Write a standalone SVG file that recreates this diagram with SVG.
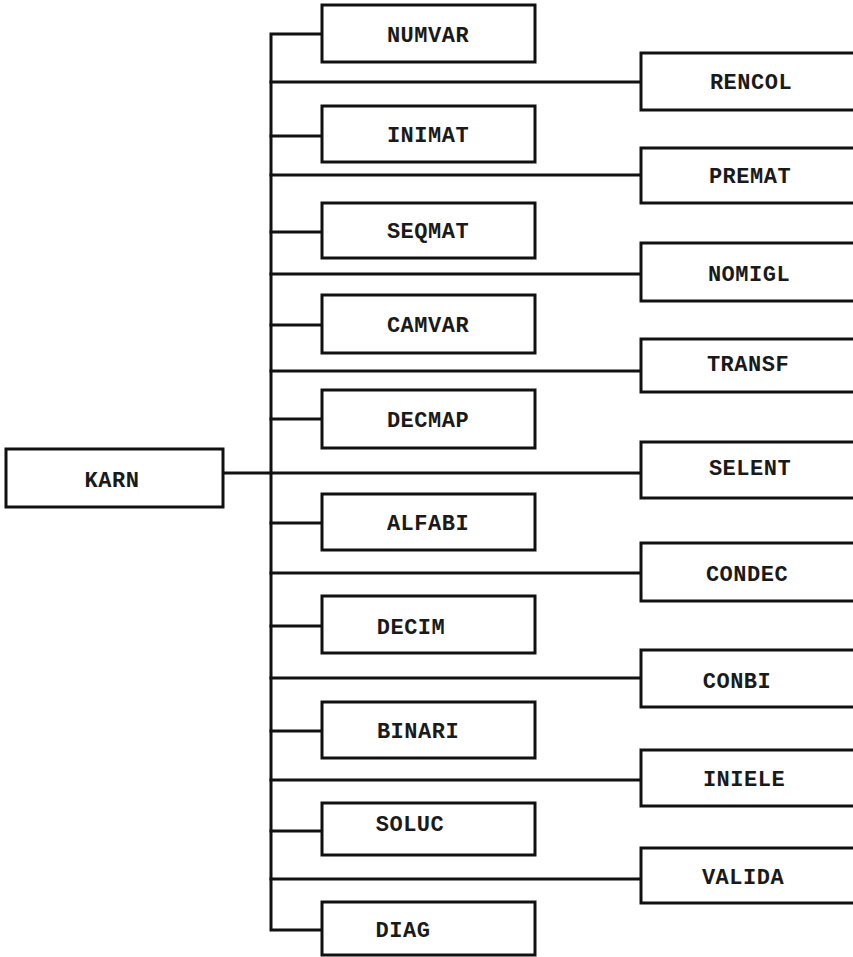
<svg xmlns="http://www.w3.org/2000/svg" width="853" height="957" viewBox="0 0 853 957">
<style>
.box{fill:#fff;stroke:#111;stroke-width:3}
.ln{fill:none;stroke:#111;stroke-width:3;stroke-linecap:square}
.t{font-family:"Liberation Mono","Courier New",monospace;font-size:22px;font-weight:bold;fill:#1a1a1a;text-anchor:middle;letter-spacing:0.5px}
</style>
<rect width="853" height="957" fill="#fff"/>
<g id="connectors">
<path class="ln" d="M322 34H271V930H322"/>
<path class="ln" d="M223 473H641"/>
<path class="ln" d="M271 136H322M271 232H322M271 325H322M271 419H322M271 523H322M271 626H322M271 731H322M271 831H322"/>
<path class="ln" d="M271 82H641M271 175H641M271 274H641M271 371H641M271 573H641M271 678H641M271 780H641M271 879H641"/>
</g>
<g id="KARN"><rect class="box" x="6" y="449" width="217" height="58"/><text class="t" x="112" y="487">KARN</text></g>
<g id="NUMVAR"><rect class="box" x="322" y="5" width="213" height="57"/><text class="t" x="428" y="42">NUMVAR</text></g>
<g id="INIMAT"><rect class="box" x="322" y="106" width="213" height="56"/><text class="t" x="428" y="142">INIMAT</text></g>
<g id="SEQMAT"><rect class="box" x="322" y="203" width="213" height="55"/><text class="t" x="428" y="238">SEQMAT</text></g>
<g id="CAMVAR"><rect class="box" x="322" y="295" width="213" height="58"/><text class="t" x="428" y="332">CAMVAR</text></g>
<g id="DECMAP"><rect class="box" x="322" y="390" width="213" height="58"/><text class="t" x="428" y="427">DECMAP</text></g>
<g id="ALFABI"><rect class="box" x="322" y="494" width="213" height="56"/><text class="t" x="428" y="530">ALFABI</text></g>
<g id="DECIM"><rect class="box" x="322" y="596" width="213" height="57"/><text class="t" x="411" y="634">DECIM</text></g>
<g id="BINARI"><rect class="box" x="322" y="702" width="213" height="56"/><text class="t" x="418" y="738">BINARI</text></g>
<g id="SOLUC"><rect class="box" x="322" y="803" width="213" height="52"/><text class="t" x="410" y="831">SOLUC</text></g>
<g id="DIAG"><rect class="box" x="322" y="902" width="213" height="53"/><text class="t" x="403" y="937">DIAG</text></g>
<g id="RENCOL"><rect class="box" x="641" y="53" width="220" height="57"/><text class="t" x="751" y="89">RENCOL</text></g>
<g id="PREMAT"><rect class="box" x="641" y="148" width="220" height="55"/><text class="t" x="750" y="183">PREMAT</text></g>
<g id="NOMIGL"><rect class="box" x="641" y="243" width="220" height="58"/><text class="t" x="749" y="281">NOMIGL</text></g>
<g id="TRANSF"><rect class="box" x="641" y="339" width="220" height="53"/><text class="t" x="748" y="371">TRANSF</text></g>
<g id="SELENT"><rect class="box" x="641" y="442" width="220" height="56"/><text class="t" x="750" y="475">SELENT</text></g>
<g id="CONDEC"><rect class="box" x="641" y="543" width="220" height="58"/><text class="t" x="747" y="581">CONDEC</text></g>
<g id="CONBI"><rect class="box" x="641" y="650" width="220" height="57"/><text class="t" x="737" y="688">CONBI</text></g>
<g id="INIELE"><rect class="box" x="641" y="750" width="220" height="56"/><text class="t" x="744" y="786">INIELE</text></g>
<g id="VALIDA"><rect class="box" x="641" y="848" width="220" height="55"/><text class="t" x="743" y="884">VALIDA</text></g>
</svg>
